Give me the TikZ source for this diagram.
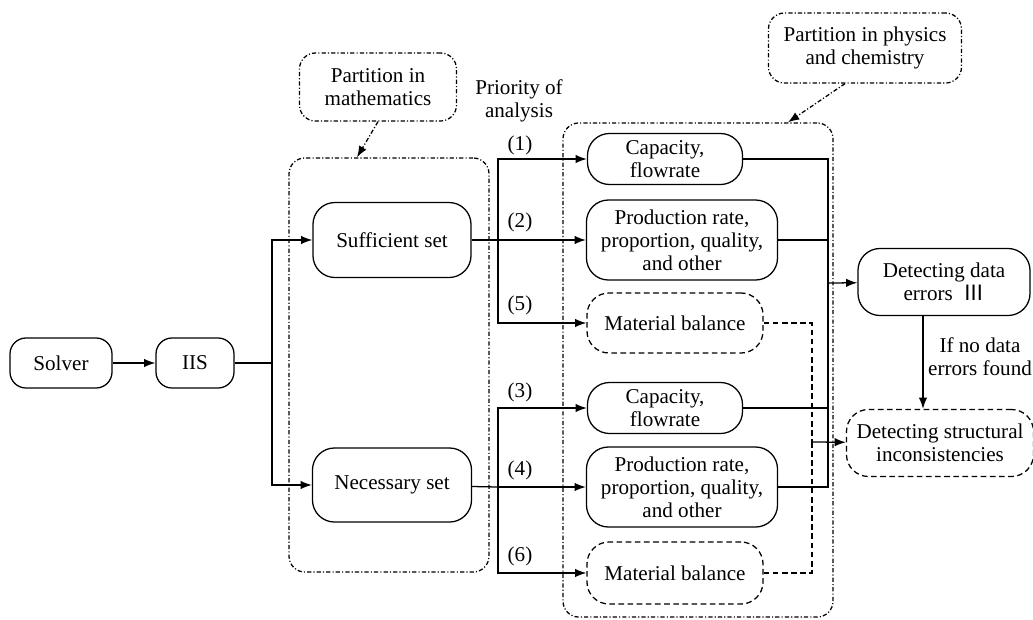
\documentclass[tikz,border=0pt]{standalone}
\usepackage{fontspec}
\setmainfont{Liberation Serif}
\newfontfamily\cjk{Noto Sans CJK SC}
\usetikzlibrary{arrows.meta}
\begin{document}
\begin{tikzpicture}
    [
    x=0.025cm, y=-0.025cm, line width=0.9pt,
    >={Latex[length=8pt,width=6pt]},
    font=\rmfamily\fontsize{15}{16.5}\selectfont,
    box/.style={draw,rounded corners=0.55cm,align=center,inner sep=0pt},
    dbox/.style={box,dash pattern=on 4pt off 2.5pt},
    frame/.style={draw,rounded corners=0.4cm,dash pattern=on 3pt off 1.5pt on 0.8pt off 1.5pt},
    note/.style={frame,align=center,inner sep=0pt},
    tag/.style={align=center,inner sep=0pt}
    ]
    \useasboundingbox (0,0) rectangle (1033,619);
    \node (mathbox) at (389,365) [frame,minimum width=5cm,minimum height=10.35cm] {};
    \node (physbox) at (698,370) [frame,minimum width=6.75cm,minimum height=12.35cm] {};
    \node (solver) at (61,363) [box,rounded corners=0.4cm,minimum width=2.55cm,minimum height=1.25cm] {Solver};
    \node (iis) at (195,363) [box,rounded corners=0.4cm,minimum width=1.95cm,minimum height=1.25cm] {IIS};
    \node (suff) at (392,240) [box,minimum width=3.95cm,minimum height=1.875cm] {Sufficient set};
    \node (nec) at (392,485) [box,minimum width=3.975cm,minimum height=1.85cm] {Necessary set};
    \node (cap1) at (665,159) [box,minimum width=3.875cm,minimum height=1.275cm] {Capacity,\\flowrate};
    \node (prod1) at (682,240) [box,minimum width=4.775cm,minimum height=2cm] {Production rate,\\proportion, quality,\\and other};
    \node (mat1) at (675,323) [dbox,minimum width=4.4cm,minimum height=1.5cm] {Material balance};
    \node (cap2) at (665,408) [box,minimum width=3.875cm,minimum height=1.275cm] {Capacity,\\flowrate};
    \node (prod2) at (682,487) [box,minimum width=4.775cm,minimum height=2cm] {Production rate,\\proportion, quality,\\and other};
    \node (mat2) at (675,573) [dbox,minimum width=4.4cm,minimum height=1.55cm] {Material balance};
    \node (err) at (944,282) [box,minimum width=4.3cm,minimum height=1.675cm] {Detecting data\\errors~~{\cjk Ⅲ}};
    \node (struct) at (940,443) [dbox,minimum width=4.675cm,minimum height=1.675cm] {Detecting structural\\inconsistencies};
    \node (pmath) at (378,87) [note,minimum width=3.925cm,minimum height=1.7cm] {Partition in\\mathematics};
    \node (pphys) at (865,48) [note,minimum width=4.825cm,minimum height=1.75cm] {Partition in physics\\and chemistry};
    \node (prio) at (519,101) [tag] {Priority of\\analysis};
    \node (nofound) at (980,357) [tag] {If no data\\errors found};
    \node (l1) at (520,145) [tag] {(1)};
    \node (l2) at (520,222) [tag] {(2)};
    \node (l5) at (520,305) [tag] {(5)};
    \node (l3) at (520,392) [tag] {(3)};
    \node (l4) at (520,470) [tag] {(4)};
    \node (l6) at (520,556) [tag] {(6)};
    \coordinate (j0) at (272,363);
    \coordinate (j1) at (498,240);
    \coordinate (j2) at (498,487);
    \coordinate (c1) at (828,283);
    \coordinate (c2) at (812,442);
    \draw [->] (solver) to (iis);
    \draw (iis) to (j0);
    \draw [->] (j0) |- (suff);
    \draw [->] (j0) |- (nec);
    \draw (suff) to (j1);
    \draw [->] (j1) |- (cap1);
    \draw [->] (j1) |- (prod1);
    \draw [->] (j1) |- (mat1);
    \draw (nec) to (j2);
    \draw [->] (j2) |- (cap2);
    \draw [->] (j2) |- (prod2);
    \draw [->] (j2) |- (mat2);
    \draw (cap1) -| (c1);
    \draw (prod1) -| (c1);
    \draw (cap2) -| (c1);
    \draw (prod2) -| (c1);
    \draw [->] (c1) to (err);
    \draw [dash pattern=on 4pt off 2.5pt] (mat1) -| (c2);
    \draw [dash pattern=on 4pt off 2.5pt] (mat2) -| (c2);
    \draw [->] (c2) to (struct);
    \draw [->] ([xshift=-0.525cm]err.south) to ([xshift=-0.525cm]err.south |- struct.north);
    \draw [->,frame] (pmath.south) to ([xshift=-0.8cm]mathbox.north);
    \draw [->,frame] ([xshift=-0.5cm]pphys.south) to ([xshift=2.25cm]physbox.north);
  \end{tikzpicture}
\end{document}
